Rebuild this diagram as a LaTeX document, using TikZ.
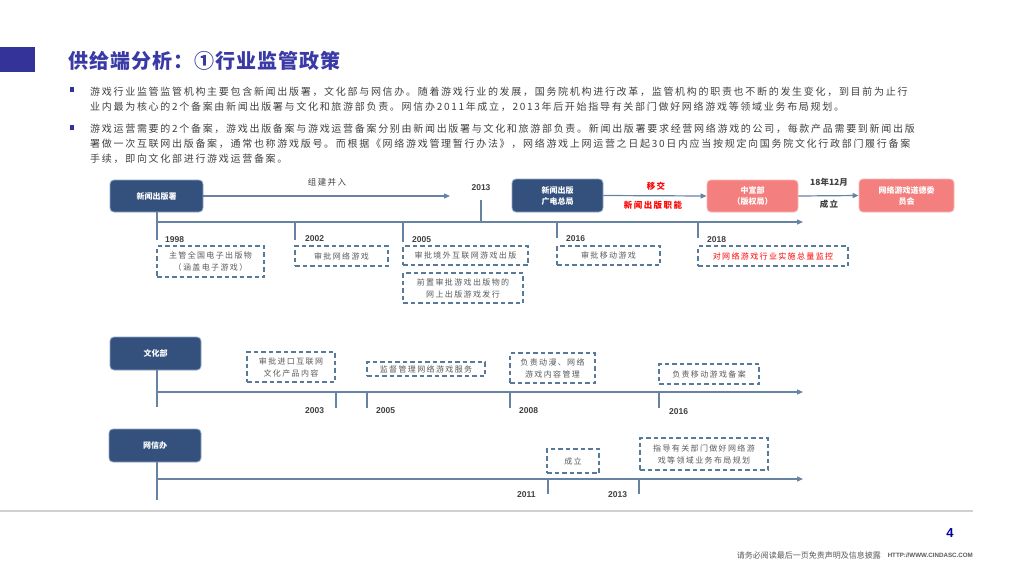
\documentclass[tikz,border=0pt]{standalone}
\usepackage{fontspec}
\setmainfont{Liberation Sans}
\newfontfamily\cjk{Noto Sans CJK SC}
\newfontfamily\cjksp[LetterSpace=17]{Noto Sans CJK SC}
\newfontfamily\cjkti[LetterSpace=5]{Noto Sans CJK SC}
\usetikzlibrary{arrows.meta}
\definecolor{indigo}{HTML}{333399}
\definecolor{titleblue}{HTML}{3A3AA6}
\definecolor{navy}{HTML}{34507C}
\definecolor{navyedge}{HTML}{8FA6C3}
\definecolor{salmon}{HTML}{F47F7F}
\definecolor{salmonedge}{HTML}{F9B5B5}
\definecolor{tlcol}{HTML}{6683A3}
\definecolor{dcol}{HTML}{587A9A}
\definecolor{txtgray}{HTML}{595959}
\definecolor{bodygray}{HTML}{404040}
\definecolor{yrgray}{HTML}{404040}
\definecolor{footgray}{HTML}{D0D0D0}
\definecolor{pagenum}{HTML}{0000A0}
\tikzset{
  navybox/.style={draw=navyedge, line width=0.8pt, fill=navy, rounded corners=4pt, text=white,
    font=\cjk\bfseries\fontsize{8}{11}\selectfont, align=center, inner sep=0pt},
  pinkbox/.style={navybox, draw=salmonedge, fill=salmon},
  dbox/.style={draw=dcol, line width=1.4pt, dash pattern=on 4.5pt off 3pt, text=txtgray,
    font=\cjksp\fontsize{8}{12}\selectfont, align=center, inner sep=0pt},
  tl/.style={draw=tlcol, line width=1.2pt},
  tla/.style={tl, -{Triangle[length=6pt,width=5pt]}},
  yr/.style={font=\bfseries\fontsize{8.5}{10}\selectfont, text=yrgray, anchor=west, inner sep=0pt},
  body/.style={font=\cjksp\fontsize{10}{12}\selectfont, text=bodygray, anchor=west, inner sep=0pt},
  lbl/.style={font=\cjksp\fontsize{8.5}{10}\selectfont, text=bodygray, inner sep=0pt},
  boldlbl/.style={font=\cjksp\bfseries\fontsize{8.5}{10}\selectfont, text=bodygray, inner sep=0pt},
  redlbl/.style={font=\cjksp\bfseries\fontsize{8.5}{10}\selectfont, text=red, inner sep=0pt},
  bullet/.style={fill=indigo, minimum size=4.5pt, inner sep=0pt}
}
\begin{document}
\begin{tikzpicture}[x=1pt,y=-1pt]
\useasboundingbox (0,0) rectangle (1024,576);
% header
\fill[indigo] (0,47) rectangle (35,72);
\node[font=\cjkti\bfseries\fontsize{20}{22}\selectfont, text=titleblue, anchor=west, inner sep=0pt] (title) at (68,61) {供给端分析：①行业监管政策};
\node[bullet] (b1) at (72,89.5) {};
\node[bullet] (b2) at (72,127.5) {};
\node[body] (l1) at (90,91.5) {游戏行业监管监管机构主要包含新闻出版署，文化部与网信办。随着游戏行业的发展，国务院机构进行改革，监管机构的职责也不断的发生变化，到目前为止行};
\node[body] (l2) at (90,106.5) {业内最为核心的2个备案由新闻出版署与文化和旅游部负责。网信办2011年成立，2013年后开始指导有关部门做好网络游戏等领域业务布局规划。};
\node[body] (l3) at (90,128.5) {游戏运营需要的2个备案，游戏出版备案与游戏运营备案分别由新闻出版署与文化和旅游部负责。新闻出版署要求经营网络游戏的公司，每款产品需要到新闻出版};
\node[body] (l4) at (90,143.5) {署做一次互联网出版备案，通常也称游戏版号。而根据《网络游戏管理暂行办法》，网络游戏上网运营之日起30日内应当按规定向国务院文化行政部门履行备案};
\node[body] (l5) at (90,158.5) {手续，即向文化部进行游戏运营备案。};

% ===== section 1 =====
\node[navybox, minimum width=93pt, minimum height=32pt] (xw) at (156.5,196) {新闻出版署};
\node[navybox, minimum width=91pt, minimum height=33pt] (gd) at (557.5,195.5) {新闻出版\\广电总局};
\node[pinkbox, minimum width=91pt, minimum height=32pt] (zx) at (752.5,196) {中宣部\\（版权局）};
\node[pinkbox, minimum width=95pt, minimum height=33pt] (dd) at (906.5,195.5) {网络游戏道德委\\员会};
\coordinate (mergeEnd) at (450,196);
\draw[tla] (xw.east) -- (mergeEnd);
\node[lbl] (zjbr) at (327,182) {组建并入};
\node[font=\bfseries\fontsize{8.5}{10}\selectfont, text=yrgray, inner sep=0pt] (y2013a) at (481,188) {2013};
\draw[tla] (gd.east) -- (zx.west);
\node[redlbl] (yj) at (656,186) {移交};
\node[redlbl] (xwcb) at (653,205) {新闻出版职能};
\draw[tla] (zx.east) -- (dd.west);
\node[boldlbl, font=\cjk\bfseries\fontsize{8.5}{10}\selectfont] (m1812) at (829,182) {18年12月};
\node[boldlbl] (cl) at (829,204) {成立};

\coordinate (s1) at (157,222);
\coordinate (e1) at (803,222);
\draw[tla] (s1) -- (e1);
\draw[tl] (xw.south -| s1) -- (157,240);
\coordinate (t13a) at (481,200);
\coordinate (t13b) at (481,222);
\draw[tl] (t13a) -- (t13b);
\foreach \x/\yb in {295/240,403/242,557/238,698/238}{\draw[tl] (\x,222) -- (\x,\yb);}
\node[yr] (y1998) at (165,240) {1998};
\node[yr] (y2002) at (305,239) {2002};
\node[yr] (y2005a) at (412,240) {2005};
\node[yr] (y2016a) at (566,239) {2016};
\node[yr] (y2018) at (707,240) {2018};
\node[dbox, minimum width=107pt, minimum height=31pt] (d1998) at (210.5,261.5) {主管全国电子出版物\\（涵盖电子游戏）};
\node[dbox, minimum width=93pt, minimum height=20pt] (d2002) at (341.5,256) {审批网络游戏};
\node[dbox, minimum width=125pt, minimum height=19pt] (d2005a) at (465.5,255.5) {审批境外互联网游戏出版};
\node[dbox, minimum width=120pt, minimum height=30pt] (d2005b) at (463,288) {前置审批游戏出版物的\\网上出版游戏发行};
\node[dbox, minimum width=103pt, minimum height=19pt] (d2016) at (608.5,255.5) {审批移动游戏};
\node[dbox, minimum width=150pt, minimum height=20pt, text=red] (d2018) at (773,256) {对网络游戏行业实施总量监控};

% ===== section 2 =====
\node[navybox, minimum width=91pt, minimum height=33pt] (wh) at (155.5,353.5) {文化部};
\coordinate (s2) at (157,392);
\coordinate (e2) at (803,392);
\draw[tla] (s2) -- (e2);
\draw[tl] (wh.south -| s2) -- (157,407);
\foreach \x in {336,367,510,659}{\draw[tl] (\x,392) -- (\x,408);}
\node[yr] (y2003) at (305,411) {2003};
\node[yr] (y2005b) at (376,411) {2005};
\node[yr] (y2008) at (519,411) {2008};
\node[yr] (y2016b) at (669,412) {2016};
\node[dbox, minimum width=88pt, minimum height=30pt] (c2003) at (291,367) {审批进口互联网\\文化产品内容};
\node[dbox, minimum width=118pt, minimum height=14pt] (c2005) at (426,369) {监督管理网络游戏服务};
\node[dbox, minimum width=85pt, minimum height=30pt] (c2008) at (552.5,368) {负责动漫、网络\\游戏内容管理};
\node[dbox, minimum width=100pt, minimum height=20pt] (c2016) at (709,374) {负责移动游戏备案};

% ===== section 3 =====
\node[navybox, minimum width=92pt, minimum height=33pt] (wx) at (155,445.5) {网信办};
\coordinate (s3) at (157,479);
\coordinate (e3) at (803,479);
\draw[tla] (s3) -- (e3);
\draw[tl] (wx.south -| s3) -- (157,500);
\foreach \x in {548,639}{\draw[tl] (\x,479) -- (\x,494);}
\node[yr] (y2011) at (517,495) {2011};
\node[yr] (y2013b) at (608,495) {2013};
\node[dbox, minimum width=52pt, minimum height=24pt] (w2011) at (573,461) {成立};
\node[dbox, minimum width=128pt, minimum height=32pt] (w2013) at (704,454) {指导有关部门做好网络游\\戏等领域业务布局规划};

% ===== footer =====
\draw[footgray, line width=1.5pt] (0,511) -- (973,511);
\node[font=\bfseries\fontsize{13}{14}\selectfont, text=pagenum, inner sep=0pt] (pg) at (950,533) {4};
\node[font=\cjk\fontsize{8}{10}\selectfont, text=txtgray, anchor=east, inner sep=0pt] (disc) at (881,555) {请务必阅读最后一页免责声明及信息披露};
\node[font=\bfseries\fontsize{6.2}{8}\selectfont, text=txtgray, anchor=east, inner sep=0pt] (url) at (973,555) {HTTP://WWW.CINDASC.COM};
\end{tikzpicture}
\end{document}
